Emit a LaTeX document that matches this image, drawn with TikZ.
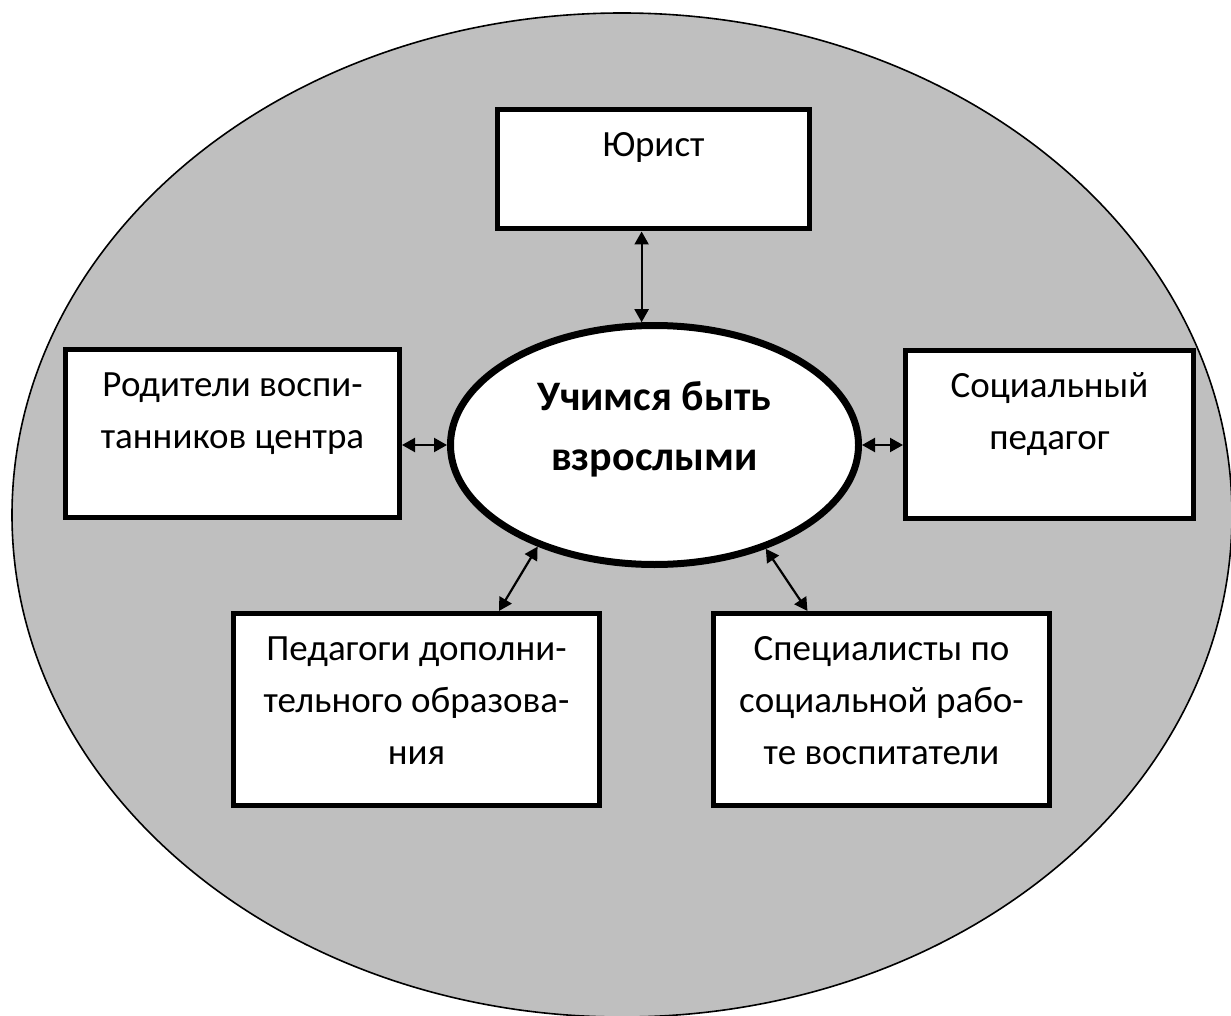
\documentclass[tikz,border=0pt]{standalone}
\usepackage{fontspec}
\setmainfont{Carlito}
\usetikzlibrary{arrows.meta,shapes.geometric}
\definecolor{fieldgray}{RGB}{191,191,191}

\begin{document}
\begin{tikzpicture}[x=0.5pt,y=-0.5pt,
  role/.style={draw,line width=2.5pt,fill=white,inner sep=0pt,align=flush center,anchor=north west,
    font=\fontsize{18.5pt}{26pt}\selectfont,text height=23.5pt},
  link/.style={{Triangle[length=6.5pt,width=7pt]}-{Triangle[length=6.5pt,width=7pt]},line width=1.1pt}]
  \useasboundingbox (0,0) rectangle (1231,1016);
  \clip (0,0) rectangle (1231,1016);
  \draw[fill=fieldgray,line width=0.8pt] (622,515) ellipse [x radius=305pt,y radius=251pt];

  % participants
  \node[role,text width=156pt,text depth=36.25pt] (lawyer) at (495,107) {Юрист};
  \node[role,text width=167pt,text depth=60.25pt] (parents) at (63,347) {Родители воспи-\\танников центра};
  \node[role,text width=144pt,text depth=60.25pt] (socped) at (903,348) {Социальный\\педагог};
  \node[role,text width=183pt,text depth=72.25pt] (addedu) at (231,611) {Педагоги дополни-\\тельного образова-\\ния};
  \node[role,text width=168pt,text depth=72.25pt] (specs) at (711,611) {Специалисты по\\социальной рабо-\\те воспитатели};

  % the project in the middle
  \node[draw,ellipse,line width=3.5pt,fill=white,minimum width=204pt,minimum height=119.5pt,inner sep=0pt,
    font=\bfseries\fontsize{21pt}{30pt}\selectfont,align=center,text height=45pt,text depth=20pt] (goal) at (654.5,445) {Учимся быть\\взрослыми};

  \draw[link] (goal.96) -- (goal.96 |- lawyer.south);
  \draw[link] (goal.west) -- (goal.west -| parents.east);
  \draw[link] (goal.east) -- (goal.east -| socped.west);
  \draw[link] (goal.221) -- (addedu.50);
  \draw[link] (goal.317) -- (specs.127);
\end{tikzpicture}
\end{document}
